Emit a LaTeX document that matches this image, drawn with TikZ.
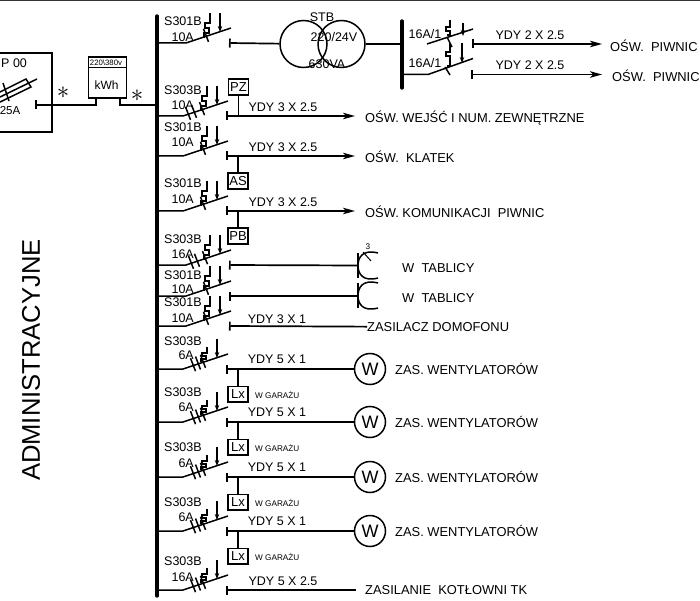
\documentclass[tikz,border=0pt]{standalone}
\usepackage{fontspec}
\setmainfont{Liberation Sans}
\usetikzlibrary{arrows.meta}
\tikzset{
  lab/.style={font=\fontsize{12.5}{13}\selectfont,inner sep=0},
  loadtext/.style={font=\fontsize{12.9}{13}\selectfont,inner sep=0,anchor=west},
  wire/.style={line width=1.5pt},
  feeder/.style={line width=1.7pt,{Bar[width=9pt]}-{Stealth[length=12pt,width=6.5pt,inset=3pt]}},
  plainfeeder/.style={line width=1.7pt,{Bar[width=9pt]}-},
  busbar/.style={line width=3.4pt,line cap=round},
  tagbox/.style={draw,line width=1.5pt,minimum width=20pt,minimum height=16pt,inner sep=0,font=\fontsize{13}{13}\selectfont},
  fan/.style={circle,draw,line width=1.5pt,minimum size=31pt,inner sep=0,font=\fontsize{18}{18}\selectfont},
  core/.style={circle,draw,line width=1.5pt,minimum size=47pt,inner sep=0},
  small/.style={font=\fontsize{8.2}{9}\selectfont,inner sep=0},
  star/.style={font=\fontsize{30}{30}\selectfont,inner sep=0}
}
\newcommand{\breaker}[9]{
  \coordinate (#1-bus) at (155,#2);
  \coordinate (#1-knee) at (#3,#2);
  \coordinate (#1-end) at (#3+45,#2-15);
  \coordinate (#1-out) at (#3+43,#2);
  \draw[wire] (#1-bus) -- (#1-knee) -- (#1-end);
  \draw[wire] (#3+24,#2-4*#9-10) -- ++(0,2*#9) -- ++(-5,0) -- ++(0,#9) -- ++(4,0) -- ++(0,#9) -- ++(-5,0) -- ++(0,#9);
  \draw[wire,-{Stealth[length=6pt,width=4.5pt]}] (#3+34,#2-30) -- (#3+34,#2-11);
  \foreach \t in {#8} {\draw[wire] (#3+\t-2.5,#2-3-\t/3-4.5) -- (#3+\t+2.5,#2-3-\t/3+8.5);}
  \node[lab,anchor=west] (#1-type) at (164,#5) {#4};
  \node[lab,anchor=east] (#1-amps) at (194,#7) {#6};
}
\begin{document}
\begin{tikzpicture}[x=1pt,y=-1pt]
\useasboundingbox (0,0) rectangle (700,601);
\coordinate (edgel) at (0,0.5);
\coordinate (edger) at (700,0.5);
\draw[line width=1pt,black!80] (edgel) -- (edger);
\coordinate (bustop) at (157,16);
\coordinate (busbot) at (157,596);
\draw[busbar] (bustop) -- (busbot);
\node[lab,rotate=90,font=\fontsize{25.6}{26}\selectfont] (side) at (31,360) {ADMINISTRACYJNE};
\draw[wire] (-2,53) -- (52,53) -- (52,132) -- (-2,132);
\node[lab,anchor=west] (pname) at (1,63) {P 00};
\node[lab,anchor=east,font=\fontsize{11.5}{12}\selectfont] (pamps) at (20.5,111) {25A};
\draw[wire] (-2,93) -- (26,79) -- (31,87) -- (-2,103);
\draw[wire] (-2,98) -- (37,79);
\draw[wire] (3,83) -- (9,101);
\node[draw,line width=1.5pt,minimum width=38pt,minimum height=41pt,inner sep=0] (meter) at (107.5,77.5) {};
\coordinate (meterl) at (88.5,67.5);
\coordinate (meterr) at (126.5,67.5);
\draw[wire] (meterl) -- (meterr);
\node[small,font=\fontsize{7.8}{8}\selectfont] (mrate) at (106,62.5) {220\textbackslash 380v};
\node[lab,font=\fontsize{12}{13}\selectfont] (mkwh) at (106.5,85) {kWh};
\coordinate (min) at (96,98);
\coordinate (mout) at (120,98);
\coordinate (pout) at (35,105);
\draw[plainfeeder] (pout) -| (min);
\draw[wire] (mout) |- (155,105);
\node[star] (s1) at (63,93) {$\ast$};
\node[star] (s2) at (137,96) {$\ast$};

\breaker{q1}{43}{186}{S301B}{21}{10A}{37}{20}{5}
\node[core] (t1) at (303.5,44) {};
\node[core] (t2) at (341.5,44) {};
\node[lab] (tname) at (322,17) {STB};
\node[lab] (tvolt) at (334,37) {220/24V};
\node[lab] (tpow) at (327,64) {630VA};
\coordinate (rtop) at (402,21);
\coordinate (rbot) at (402,88);
\coordinate (rin) at (402,44);
\draw[busbar] (rtop) -- (rbot);
\draw[plainfeeder] (q1-out) -- (t1);
\draw[wire] (t2) -- (rin);

\coordinate (ra-knee) at (427,44);
\coordinate (ra-end) at (473,29);
\coordinate (rb-bus) at (402,74.5);
\coordinate (rb-knee) at (428,74.5);
\coordinate (rb-end) at (473,58.5);
\draw[wire] (ra-knee) -- (ra-end);
\draw[wire] (rb-bus) -- (rb-knee) -- (rb-end);
\draw[wire] (450,20) -- (450,27) -- (446,27) -- (446,31) -- (450,31) -- (450,35) -- (447,35);
\draw[wire] (447,37) -- (452,47);
\draw[wire] (450,43) -- (450,52) -- (446,52) -- (446,56) -- (450,56) -- (450,66) -- (447,66);
\draw[wire] (445,67) -- (450,75);
\draw[wire,-{Stealth[length=6pt,width=4.5pt]}] (463,23) -- (463,36);
\draw[wire,-{Stealth[length=6pt,width=4.5pt]}] (462,43) -- (462,63);
\node[lab] (ra-amps) at (425,34) {16A/1};
\node[lab] (rb-amps) at (425,63) {16A/1};
\coordinate (ra-out) at (472,44);
\coordinate (ra-tip) at (602,44);
\coordinate (rb-out) at (471,74.5);
\coordinate (rb-tip) at (602,74.5);
\draw[feeder] (ra-out) -- (ra-tip);
\draw[feeder] (rb-out) -- (rb-tip);
\node[lab] (ra-cable) at (530,35) {YDY 2 X 2.5};
\node[lab] (rb-cable) at (530,65) {YDY 2 X 2.5};
\node[loadtext] (ra-load) at (610,46) {OŚW.~~PIWNIC};
\node[loadtext] (rb-load) at (612,76) {OŚW.~~PIWNIC};

\breaker{q2}{116}{183}{S303B}{90}{10A}{105}{5,11,19}{5}
\breaker{q3}{156}{183}{S301B}{127}{10A}{142}{20}{5}
\breaker{q4}{211}{183}{S301B}{183}{10A}{199}{20}{5}
\breaker{q5}{265}{186}{S303B}{239}{16A}{254}{5,11,19}{5}
\breaker{q6}{296}{186}{S301B}{275}{10A}{289}{20}{5}
\breaker{q7}{326}{186}{S301B}{302}{10A}{318}{20}{5}
\node[tagbox] (pz) at (238.5,87) {PZ};
\node[tagbox] (as) at (238,181) {AS};
\node[tagbox] (pb) at (238,236) {PB};
\draw[wire] (pz) -- (pz |- q2-out);
\draw[wire] (as) -- (as |- q3-out);
\draw[wire] (pb) -- (pb |- q4-out);
\coordinate (q2-tip) at (355,116);
\coordinate (q3-tip) at (355,156);
\coordinate (q4-tip) at (355,211);
\draw[feeder] (q2-out) -- (q2-tip);
\draw[feeder] (q3-out) -- (q3-tip);
\draw[feeder] (q4-out) -- (q4-tip);
\node[lab] (c2) at (283,107) {YDY 3 X 2.5};
\node[lab] (c3) at (283,147) {YDY 3 X 2.5};
\node[lab] (c4) at (283,202) {YDY 3 X 2.5};
\node[loadtext] (l2) at (365,118) {OŚW. WEJŚĆ I NUM. ZEWNĘTRZNE};
\node[loadtext] (l3) at (365,157) {OŚW.~~KLATEK};
\node[loadtext] (l4) at (365,212) {OŚW. KOMUNIKACJI~~PIWNIC};

\coordinate (q5-bar) at (358,265.5);
\coordinate (q6-bar) at (358,296);
\draw[plainfeeder] (q5-out) -- (q5-bar);
\draw[plainfeeder] (q6-out) -- (q6-bar);
\draw[wire] (378,253) .. controls (362,249) and (358,258) .. (358,265.5) .. controls (358,274) and (363,282) .. (378,278);
\draw[wire] (358,253) -- (358,278);
\draw[wire] (378,283) .. controls (362,279) and (358,288) .. (358,296) .. controls (358,304) and (363,312) .. (378,308);
\draw[wire] (358,283) -- (358,308);
\draw[line width=1pt] (363,252) -- (371,261);
\node[small] (n3) at (368,247) {3};
\node[loadtext] (l5) at (402,268) {W~~TABLICY};
\node[loadtext] (l6) at (402,298) {W~~TABLICY};
\node[lab] (c7) at (277,319) {YDY 3 X 1};
\node[loadtext] (l7) at (367,327) {ZASILACZ DOMOFONU};
\draw[plainfeeder] (q7-out) -- (l7);

\foreach \n/\y/\ly/\ay in {8/369/341/355,9/422/392/407,10/477/447/463,11/531/502/517} {
  \breaker{q\n}{\y}{183}{S303B}{\ly}{6A}{\ay}{10,15,20}{3}
  \node[fan] (w\n) at (370,\y) {W};
  \draw[plainfeeder] (q\n-out) -- (w\n);
  \node[lab] (c\n) at (277,\y-10) {YDY 5 X 1};
  \node[loadtext] (l\n) at (395,\y) {ZAS. WENTYLATORÓW};
  \node[tagbox,minimum height=15.5pt] (x\n) at (238,\y+25) {Lx};
  \draw[wire] (x\n) -- (x\n |- q\n-out);
  \node[small,anchor=west] (g\n) at (255,\y+26) {W GARAŻU};
}
\breaker{q12}{590}{183}{S303B}{561}{16A}{577}{10,15,20}{3}
\coordinate (q12-tip) at (356,590);
\draw[plainfeeder] (q12-out) -- (q12-tip);
\node[lab] (c12) at (283,581) {YDY 5 X 2.5};
\node[loadtext] (l12) at (365,590) {ZASILANIE~~KOTŁOWNI TK};
\end{tikzpicture}
\end{document}
